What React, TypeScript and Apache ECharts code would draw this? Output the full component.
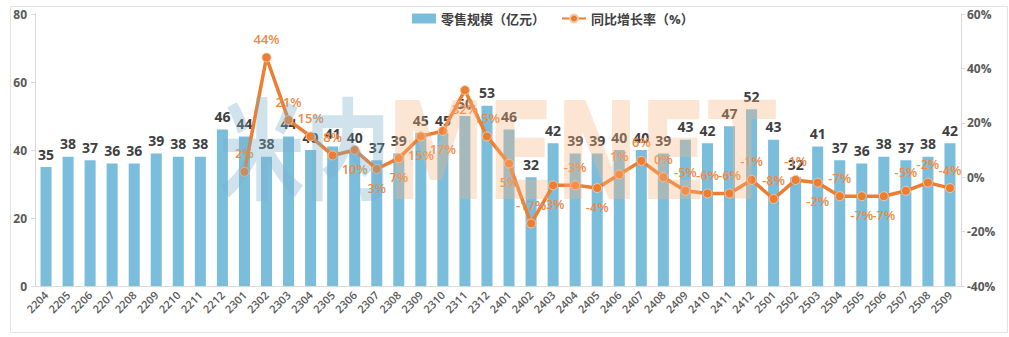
import React, { useEffect, useRef } from "react";
import * as echarts from "echarts";

const categories = [
  "2204","2205","2206","2207","2208","2209","2210","2211","2212",
  "2301","2302","2303","2304","2305","2306","2307","2308","2309","2310","2311","2312",
  "2401","2402","2403","2404","2405","2406","2407","2408","2409","2410","2411","2412",
  "2501","2502","2503","2504","2505","2506","2507","2508","2509",
];

const retailScale = [
  35, 38, 37, 36, 36, 39, 38, 38, 46,
  44, 38, 44, 40, 41, 40, 37, 39, 45, 45, 50, 53,
  46, 32, 42, 39, 39, 40, 40, 39, 43, 42, 47, 52,
  43, 32, 41, 37, 36, 38, 37, 38, 42,
];

const yoyGrowth: (number | null)[] = [
  null, null, null, null, null, null, null, null, null,
  2, 44, 21, 15, 8, 10, 3, 7, 15, 17, 32, 15,
  5, -17, -3, -3, -4, 1, 6, 0, -5, -6, -6, -1,
  -8, -1, -2, -7, -7, -7, -5, -2, -4,
];

// label placement for each growth point ("t" above, "b" below)
const yoyLabelPos = [
  "", "", "", "", "", "", "", "", "",
  "t", "t", "t", "t", "t", "b", "b", "b", "b", "b", "b", "t",
  "b", "t", "b", "t", "b", "t", "t", "t", "t", "t", "t", "t",
  "t", "t", "b", "t", "b", "b", "t", "t", "t",
];

const leftTicks = [0, 20, 40, 60, 80];
const rightTicks = [-40, -20, 0, 20, 40, 60];

export default function App() {
  const ref = useRef<HTMLDivElement>(null);
  useEffect(() => {
    if (!ref.current) return;
    const chart = echarts.init(ref.current, null, { renderer: "svg" });
    const font = "'Open Sans', 'Noto Sans CJK SC', sans-serif";
    chart.setOption({
      animation: false,
      backgroundColor: "#ffffff",
      textStyle: { fontFamily: font },
      legend: {
        top: 7,
        left: 407,
        itemGap: 16,
        itemWidth: 24,
        itemHeight: 10,
        textStyle: { fontSize: 13, fontWeight: "bold", color: "#404040", fontFamily: font },
        data: [
          { name: "零售规模（亿元）", icon: "rect" },
          { name: "同比增长率（%）" },
        ],
      },
      grid: { left: 35, right: 48, top: 14, bottom: 51 },
      xAxis: {
        type: "category",
        data: categories,
        axisLine: { lineStyle: { color: "#d9d9d9" } },
        axisTick: { show: false },
        axisLabel: {
          rotate: 45,
          interval: 0,
          hideOverlap: false,
          fontSize: 11,
          fontWeight: 600,
          color: "#595959",
          margin: 7,
        },
      },
      yAxis: [
        {
          type: "value",
          min: leftTicks[0],
          max: leftTicks[leftTicks.length - 1],
          interval: 20,
          splitLine: { show: false },
          axisLine: { show: true, lineStyle: { color: "#d9d9d9" } },
          axisTick: { show: true, length: 4, lineStyle: { color: "#d9d9d9" } },
          axisLabel: { fontSize: 12, fontWeight: "bold", color: "#595959", margin: 8 },
        },
        {
          type: "value",
          min: rightTicks[0],
          max: rightTicks[rightTicks.length - 1],
          interval: 20,
          splitLine: { show: false },
          axisLine: { show: true, lineStyle: { color: "#d9d9d9" } },
          axisTick: { show: true, length: 4, lineStyle: { color: "#d9d9d9" } },
          axisLabel: {
            fontSize: 12,
            fontWeight: "bold",
            color: "#595959",
            margin: 6,
            formatter: "{value}%",
          },
        },
      ],
      graphic: [
        {
          type: "rect",
          left: 8,
          top: 4,
          shape: { width: 997, height: 326 },
          style: { fill: "none", stroke: "#e3e3e3", lineWidth: 1 },
          silent: true,
          z: -10,
        },
        {
          type: "text",
          x: 219,
          y: 88,
          scaleX: 0.78,
          z: 100,
          silent: true,
          style: {
            text: "米内",
            font: "bold 110px 'Noto Sans CJK SC', sans-serif",
            fill: "rgba(120,175,200,0.35)",
          },
        },
        {
          type: "text",
          x: 386,
          y: 84,
          scaleX: 0.74,
          z: 100,
          silent: true,
          style: {
            text: "MENET",
            font: "bold 136px 'DejaVu Sans', sans-serif",
            fill: "rgba(245,180,130,0.35)",
          },
        },
      ],
      series: [
        {
          name: "零售规模（亿元）",
          type: "bar",
          yAxisIndex: 0,
          data: retailScale,
          barWidth: "50%",
          itemStyle: { color: "#7bbedc" },
          label: {
            show: true,
            position: "top",
            distance: 6,
            fontSize: 14,
            fontWeight: "bold",
            color: "#404040",
          },
        },
        {
          name: "同比增长率（%）",
          type: "line",
          yAxisIndex: 1,
          data: yoyGrowth.map((v, i) => ({
            value: v,
            label: { position: yoyLabelPos[i] === "b" ? "bottom" : "top" },
          })),
          connectNulls: false,
          symbol: "circle",
          symbolSize: 9,
          lineStyle: { color: "#ed7d31", width: 3.5 },
          itemStyle: { color: "#ed7d31", borderColor: "#f6c8a6", borderWidth: 1 },
          label: {
            show: true,
            distance: 7,
            fontSize: 13,
            fontWeight: 600,
            color: "#ee8a45",
            formatter: (p: any) => (p.value == null ? "" : p.value + "%"),
          },
          z: 5,
        },
      ],
    });
    return () => chart.dispose();
  }, []);
  return (
    <div
      ref={ref}
      style={{ position: "fixed", left: 0, top: 0, width: 1009, height: 337 }}
    />
  );
}
